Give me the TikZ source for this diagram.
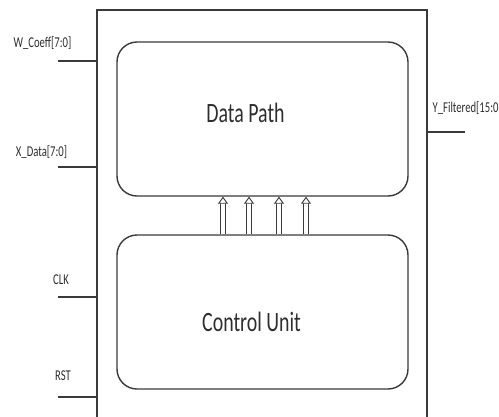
\documentclass[tikz,border=0pt]{standalone}
\usepackage{graphicx}
\usepackage{fontspec}
\setmainfont{Carlito}
\usetikzlibrary{arrows.meta, positioning}
\definecolor{cline}{HTML}{3A3A3A}
\definecolor{ctext}{HTML}{2E2E2E}
% narrow, tall lettering
\newcommand{\narrowtext}[2]{\scalebox{0.71}[1]{\fontsize{#1}{#1}\selectfont #2}}
\tikzset{
  every picture/.style={line width=1.4pt, draw=cline, text=ctext},
  block/.style={draw=cline, rounded corners=20pt, minimum width=291pt, minimum height=154pt, inner sep=0pt},
  wire/.style={draw=cline, line width=1.4pt},
  pin/.style={inner sep=1pt},
  bus/.style={draw=cline, line width=0.9pt, double=white, double distance=3.8pt,
    -{Triangle[fill=white, width=10pt, length=7pt, line width=0.9pt]}},
}

\begin{document}
\begin{tikzpicture}[x=1pt, y=-1pt]
  \useasboundingbox (0,0) rectangle (499,416);
  % chip outline, bottom edge runs off the page
  \draw[draw=cline, line width=1.6pt] (97,10) rectangle (427,418);
  \node[block] (dp) at (262.5,119) {};
  \node[block] (cu) at (262.5,312) {};
  \node (dplabel) at (245.5,113) {\narrowtext{28}{Data Path}};
  \node (culabel) at (251.5,322) {\narrowtext{28}{Control Unit}};
  % control signals up to the data path
  \foreach \x in {223, 249, 279, 306}
    \draw[bus] (cu.north -| \x,0) -- (dp.south -| \x,0);
  % inputs on the left
  \coordinate (wc) at (58,61);
  \coordinate (xd) at (58,167);
  \coordinate (clk) at (58,297);
  \coordinate (rst) at (58,397);
  \foreach \p in {wc, xd, clk, rst} \draw[wire] (\p) -- (\p -| 97,0);
  \node[pin] (wcl) at (42.5,43) {\narrowtext{15}{W\_Coeff[7:0]}};
  \node[pin] (xdl) at (41.5,152) {\narrowtext{15}{X\_Data[7:0]}};
  \node[pin] (clkl) at (61,280) {\narrowtext{15}{CLK}};
  \node[pin] (rstl) at (63,376) {\narrowtext{15}{RST}};
  % output on the right
  \coordinate (yf) at (465,132);
  \draw[wire] (yf -| 427,0) -- (yf);
  \node[pin, anchor=west] (yfl) at (431,108) {\narrowtext{15}{Y\_Filtered[15:0]}};
\end{tikzpicture}
\end{document}
